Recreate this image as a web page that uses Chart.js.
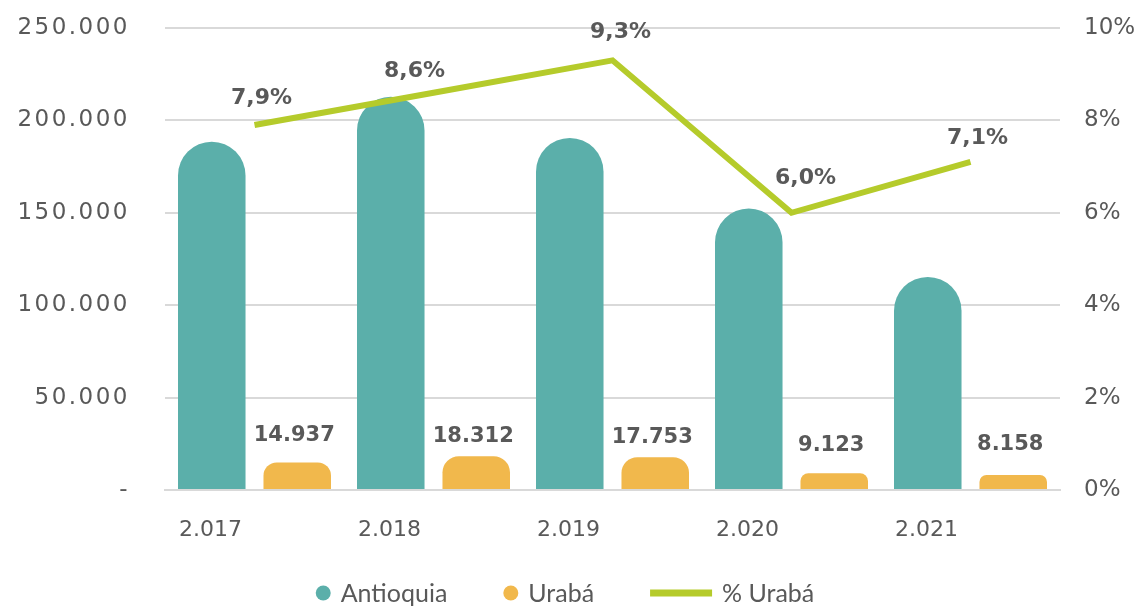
<!DOCTYPE html>
<html><head><meta charset="utf-8">
<script src="https://cdn.jsdelivr.net/npm/chart.js@4"></script>
<style>html,body{margin:0;padding:0;background:#fff}#wrap{width:1146px;height:607px}</style>
</head><body><div id="wrap"><canvas id="c" width="1146" height="607"></canvas></div>
<script>
const years = ['2.017', '2.018', '2.019', '2.020', '2.021'];
const antioquia = [188500, 212800, 190500, 152300, 115300];
const uraba = [14937, 18312, 17753, 9123, 8158];
const pctUraba = [7.9, 8.6, 9.3, 6.0, 7.1];
const seriesNames = ['Antioquia', 'Urabá', '% Urabá'];

const COL_TEAL = '#5BAFAA';
const COL_ORANGE = '#F1B84C';
const COL_LIME = '#B5CB2B';
const COL_TEXT = '#595959';
const COL_GRID = '#d9d9d9';
const CLEAR = 'rgba(0,0,0,0)';
const TICK_FONT = {family: '"DejaVu Sans"', size: 23};

// label placement nudges (styling only)
const urabaLabelLift = [27, 20, 20, 28, 30];
const pctLabelShift = [[7, -27], [-19, -21], [8, -28], [14, -35], [7, -24]];

function fmtThousands(v) {
  if (v === 0) return '-';
  return String(Math.round(v)).replace(/\B(?=(\d{3})+(?!\d))/g, '.');
}
function fmtPct(v) { return v.toFixed(1).replace('.', ',') + '%'; }

const valueLabels = {
  id: 'valueLabels',
  afterDatasetsDraw(chart) {
    const ctx = chart.ctx;
    ctx.save();
    ctx.letterSpacing = '0px';
    ctx.fillStyle = COL_TEXT;
    ctx.textAlign = 'center';
    ctx.textBaseline = 'middle';
    ctx.font = 'bold 21px "DejaVu Sans"';
    chart.getDatasetMeta(1).data.forEach((bar, i) => {
      ctx.fillText(fmtThousands(uraba[i]), bar.x - 3, bar.y - urabaLabelLift[i]);
    });
    ctx.font = 'bold 22px "DejaVu Sans"';
    chart.getDatasetMeta(2).data.forEach((pt, i) => {
      ctx.fillText(fmtPct(pctUraba[i]), pt.x + pctLabelShift[i][0], pt.y + pctLabelShift[i][1]);
    });
    ctx.restore();
    // wider tracking for the left axis labels, which are drawn next (ticks z:1)
    ctx.letterSpacing = '2.5px';
  }
};

const customLegend = {
  id: 'customLegend',
  afterDraw(chart) {
    const ctx = chart.ctx;
    ctx.letterSpacing = '0px';
    ctx.save();
    ctx.font = '25px Lato';
    ctx.textBaseline = 'middle';
    ctx.textAlign = 'left';
    const y = 593;
    const items = [
      {type: 'circle', color: COL_TEAL, text: seriesNames[0], mw: 15},
      {type: 'circle', color: COL_ORANGE, text: seriesNames[1], mw: 15},
      {type: 'line', color: COL_LIME, text: seriesNames[2], mw: 62}
    ];
    const markGap = 10, itemGap = 56;
    let total = 0;
    items.forEach((it, i) => {
      it.tw = ctx.measureText(it.text).width;
      total += it.mw + markGap + it.tw + (i < items.length - 1 ? itemGap : 0);
    });
    let x = chart.width / 2 - 8 - total / 2;
    items.forEach(it => {
      ctx.fillStyle = it.color;
      ctx.strokeStyle = it.color;
      if (it.type === 'circle') {
        ctx.beginPath();
        ctx.arc(x + it.mw / 2, y, it.mw / 2, 0, Math.PI * 2);
        ctx.fill();
      } else {
        ctx.lineWidth = 7;
        ctx.beginPath();
        ctx.moveTo(x, y);
        ctx.lineTo(x + it.mw, y);
        ctx.stroke();
      }
      x += it.mw + markGap;
      ctx.fillStyle = COL_TEXT;
      ctx.fillText(it.text, x, y + 1);
      x += it.tw + itemGap;
    });
    ctx.restore();
  }
};

new Chart(document.getElementById('c'), {
  data: {
    labels: years,
    datasets: [
      {type: 'bar', label: seriesNames[0], data: antioquia, backgroundColor: COL_TEAL,
       borderRadius: 100, borderSkipped: 'start', barPercentage: 0.79, categoryPercentage: 0.955,
       yAxisID: 'y', order: 1},
      {type: 'bar', label: seriesNames[1], data: uraba, backgroundColor: COL_ORANGE,
       borderRadius: 100, borderSkipped: 'start', barPercentage: 0.79, categoryPercentage: 0.955,
       yAxisID: 'y', order: 1},
      {type: 'line', label: seriesNames[2], data: pctUraba, borderColor: COL_LIME, backgroundColor: COL_LIME,
       borderWidth: 6, pointRadius: 0, tension: 0, fill: false, yAxisID: 'y1', order: 0}
    ]
  },
  options: {
    responsive: false,
    animation: false,
    layout: {padding: {top: 28, left: 0, right: 0, bottom: 0}},
    plugins: {legend: {display: false}, tooltip: {enabled: false}},
    scales: {
      x: {
        grid: {display: false, drawTicks: false},
        border: {display: true, color: COL_GRID, width: 2},
        ticks: {color: COL_TEXT, font: {family: '"DejaVu Sans"', size: 22}, padding: 27, labelOffset: -44, maxRotation: 0},
        afterFit(s) { s.height = 117; }
      },
      y: {
        position: 'left', min: 0, max: 250000,
        ticks: {z: 1, stepSize: 50000, color: COL_TEXT, font: TICK_FONT, padding: 0, callback: v => fmtThousands(v)},
        grid: {color: COL_GRID, lineWidth: 2, drawTicks: true, tickLength: 35, tickColor: CLEAR},
        border: {display: false},
        afterFit(s) { s.width = 165; }
      },
      y1: {
        position: 'right', min: 0, max: 10,
        ticks: {stepSize: 2, color: COL_TEXT, font: TICK_FONT, padding: 0, callback: v => v + '%'},
        grid: {display: true, color: CLEAR, drawOnChartArea: false, drawTicks: true, tickLength: 24, tickColor: CLEAR},
        border: {display: false},
        afterFit(s) { s.width = 86; }
      }
    }
  },
  plugins: [valueLabels, customLegend]
});
</script>
</body></html>
